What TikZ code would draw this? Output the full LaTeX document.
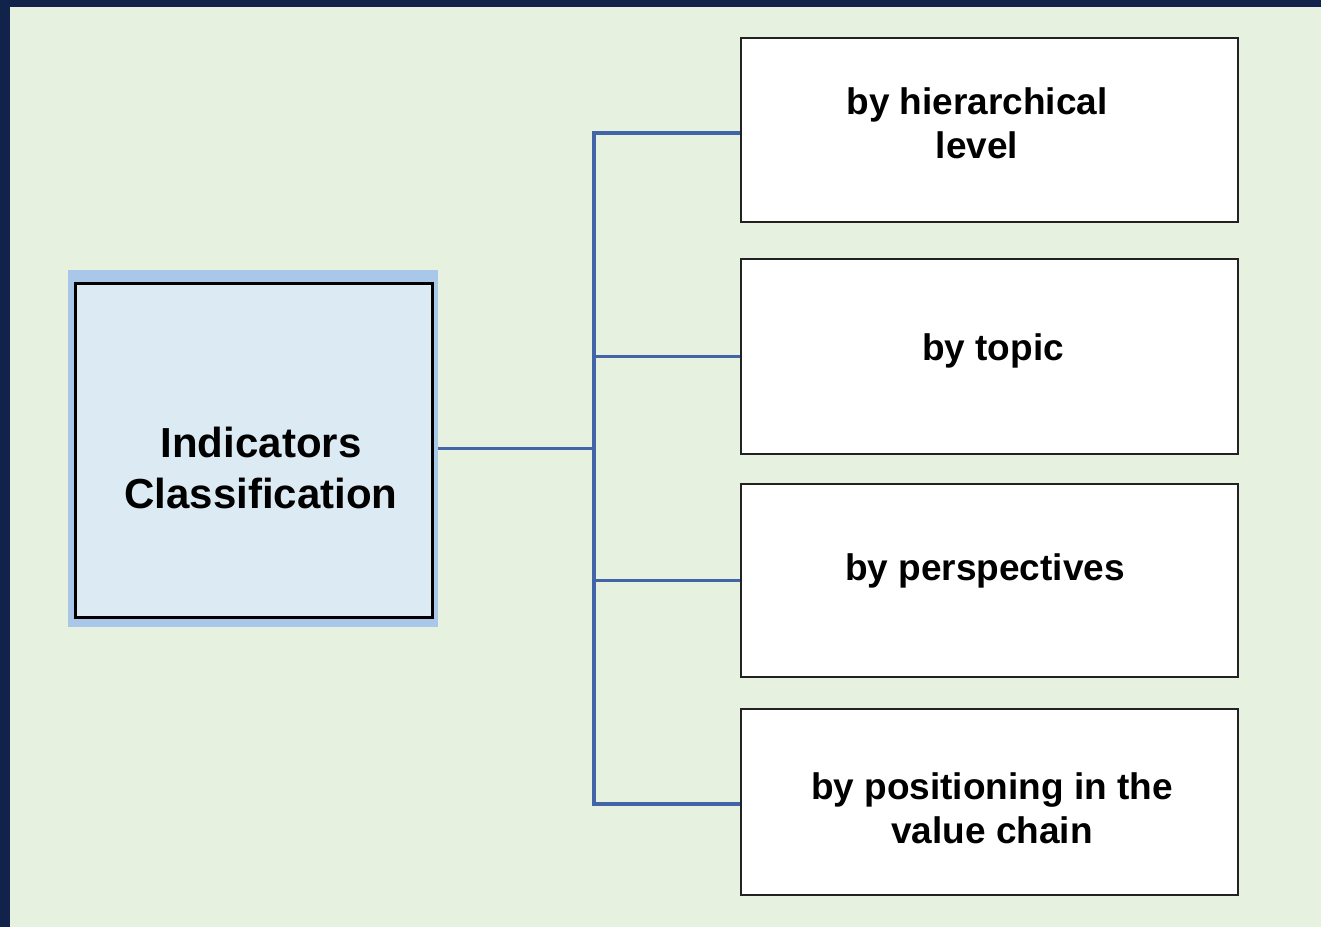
\documentclass[tikz,border=0pt]{standalone}
\usepackage{fontspec}
\setmainfont{Liberation Sans}
\definecolor{navy}{HTML}{12234B}
\definecolor{bgreen}{HTML}{E6F1E0}
\definecolor{frameblue}{HTML}{A9C7E8}
\definecolor{mainfill}{HTML}{DCEAF3}
\definecolor{conn}{HTML}{4265AA}
\definecolor{boxline}{HTML}{222222}
\begin{document}
\begin{tikzpicture}[x=1pt,y=-1pt,
  catbox/.style={draw=boxline,line width=2.8pt,fill=white,minimum width=497pt,inner sep=0pt},
  cattext/.style={font=\bfseries\fontsize{37}{44}\selectfont,align=center,inner sep=0pt},
  link/.style={draw=conn,line width=3.5pt,line join=miter}]
\useasboundingbox (0,0) rectangle (1321,927);
\fill[bgreen] (0,0) rectangle (1321,927);
\fill[navy] (0,0) rectangle (1321,7);
\fill[navy] (0,0) rectangle (10,927);
% left box
\node[fill=frameblue,minimum width=370pt,minimum height=357pt,inner sep=0pt] (frame) at (253,448.5) {};
\node[draw=black,line width=3pt,fill=mainfill,minimum width=357pt,minimum height=334pt,inner sep=0pt] (main) at (253.5,450) {};
\node[font=\bfseries\fontsize{42}{51}\selectfont,align=center,inner sep=0pt] (maintext) at (261,467.5) {Indicators\\Classification};
% right boxes
\node[catbox,minimum height=184pt] (b1) at (989.5,130) {};
\node[catbox,minimum height=195pt] (b2) at (989.5,356.5) {};
\node[catbox,minimum height=193pt] (b3) at (989.5,580.5) {};
\node[catbox,minimum height=186pt] (b4) at (989.5,802) {};
\node[cattext] (t1) at (977,123) {by hierarchical\\level};
\node[cattext,anchor=base] (t2) at (993,360) {by topic};
\node[cattext,anchor=base] (t3) at (985,580) {by perspectives};
\node[cattext] (t4) at (992,808.5) {by positioning in the\\value chain};
% connectors
\coordinate (j) at (594,448.5);
\draw[link] (frame.east) -- (j);
\draw[link] ([yshift=-3pt]b1.west) -| (j) |- ([yshift=-2pt]b4.west);
\draw[link] (j) |- (b2.west);
\draw[link] (j) |- (b3.west);
\end{tikzpicture}
\end{document}
